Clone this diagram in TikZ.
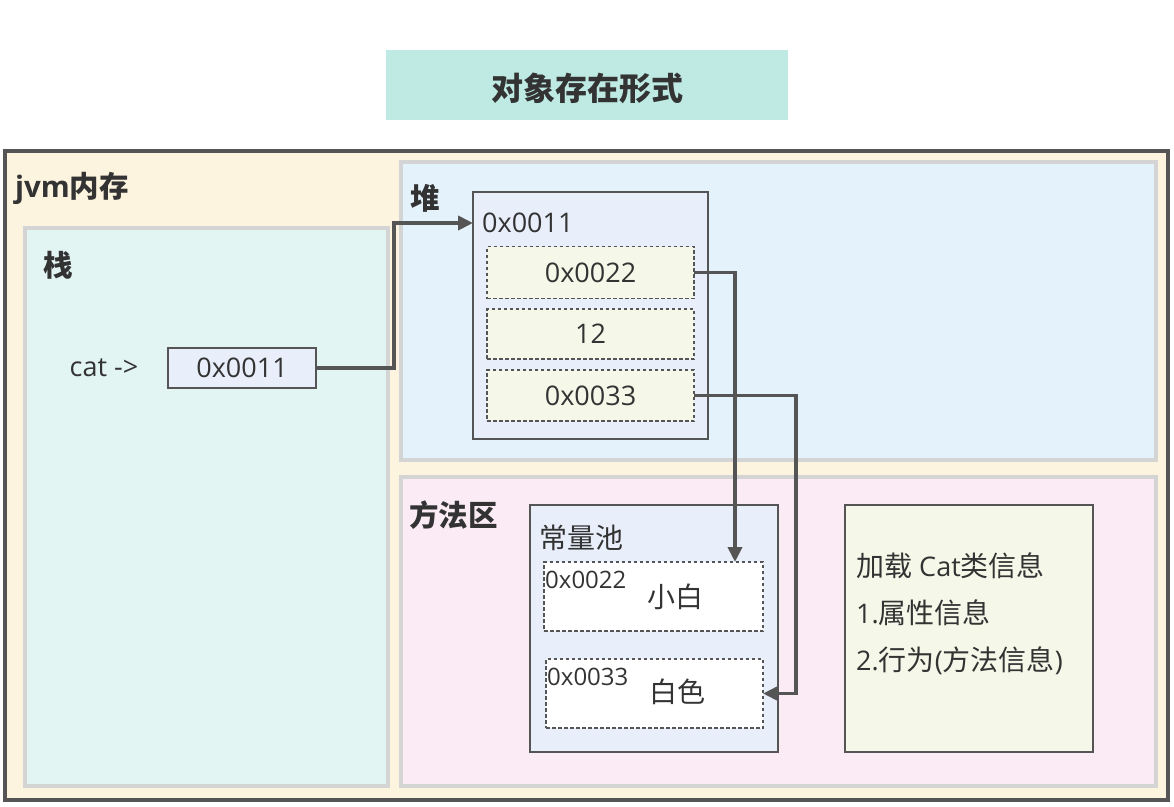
\documentclass[tikz,border=0pt]{standalone}
\usepackage{fontspec}
\setmainfont{Open Sans}
\newfontfamily\cjk{Noto Sans CJK SC}
\usetikzlibrary{arrows.meta}
\definecolor{titlefill}{HTML}{BEEAE3}
\definecolor{jvmfill}{HTML}{FDF4E0}
\definecolor{stackfill}{HTML}{E2F5F3}
\definecolor{heapfill}{HTML}{E4F3FB}
\definecolor{methodfill}{HTML}{FBEBF5}
\definecolor{objfill}{HTML}{E8EEFA}
\definecolor{fieldfill}{HTML}{F5F8E8}
\definecolor{lightborder}{HTML}{D4D4D4}
\definecolor{darkline}{HTML}{555555}
\definecolor{txt}{HTML}{333333}
\tikzset{
  region/.style={draw=lightborder, line width=3.5pt, inner sep=0pt, outer sep=0pt},
  objbox/.style={draw=darkline, line width=2pt, fill=objfill, inner sep=0pt, outer sep=0pt},
  fieldbox/.style={draw=darkline, line width=1.6pt, dash pattern=on 3.5pt off 2.5pt, fill=fieldfill, inner sep=0pt, outer sep=0pt, font=\fontsize{27}{30}\selectfont, text=txt},
  poolbox/.style={draw=darkline, line width=1.6pt, dash pattern=on 3.5pt off 2.5pt, fill=white, inner sep=0pt, outer sep=0pt},
  bigtitle/.style={font=\fontsize{29.5}{34}\selectfont\bfseries, text=txt, inner sep=0pt},
  plain/.style={font=\fontsize{27}{30}\selectfont, text=txt, inner sep=0pt},
  cjkplain/.style={font=\fontsize{28}{32}\selectfont\cjk, text=txt, inner sep=0pt},
  small/.style={font=\fontsize{24}{27}\selectfont, text=txt, inner sep=0pt},
  conn/.style={draw=darkline, line width=3.8pt, -{Triangle[length=15pt,width=14pt]}},
}
\begin{document}
\begin{tikzpicture}[x=1pt,y=-1pt]
\useasboundingbox (0,0) rectangle (1174,806);
\fill[white] (0,0) rectangle (1174,806);
% title
\node[fill=titlefill, minimum width=402pt, minimum height=70pt, inner sep=0pt] (title) at (587,85) {};
\node[bigtitle, font=\fontsize{32}{36}\selectfont\bfseries\cjk] (titletext) at (587,88) {对象存在形式};
% outer jvm
\node[draw=darkline, line width=3.5pt, fill=jvmfill, minimum width=1163pt, minimum height=649pt, inner sep=0pt] (jvm) at (586.5,475.5) {};
\node[bigtitle, anchor=west] (jvmlabel) at (15,188) {jvm{\cjk 内存}};
% stack
\node[region, fill=stackfill, minimum width=363pt, minimum height=558pt] (stack) at (206.5,507) {};
\node[bigtitle, anchor=west] (stacklabel) at (43,265) {\cjk 栈};
\node[plain] (catlabel) at (104,368) {cat ->};
\node[objbox, minimum width=148pt, minimum height=40pt, font=\fontsize{27}{30}\selectfont, text=txt] (s0011) at (242,368) {0x0011};
% heap
\node[region, fill=heapfill, minimum width=755pt, minimum height=298pt] (heap) at (778.5,311) {};
\node[bigtitle, anchor=west] (heaplabel) at (410,198) {\cjk 堆};
\node[objbox, minimum width=235pt, minimum height=247pt] (hobj) at (590.5,315.5) {};
\node[plain, anchor=west] (hl) at (482,223) {0x0011};
\node[fieldbox, minimum width=207pt, minimum height=52pt] (f22) at (590.5,272.5) {0x0022};
\node[fieldbox, minimum width=207pt, minimum height=50pt] (f12) at (590.5,334) {12};
\node[fieldbox, minimum width=207pt, minimum height=51pt] (f33) at (590.5,395.5) {0x0033};
% method area
\node[region, fill=methodfill, minimum width=755pt, minimum height=309pt] (method) at (778.5,631.5) {};
\node[bigtitle, anchor=west] (methodlabel) at (409,515) {\cjk 方法区};
\node[objbox, minimum width=248pt, minimum height=247pt] (pool) at (654,628.5) {};
\node[cjkplain, anchor=west] (poollabel) at (539,538) {常量池};
\node[poolbox, minimum width=219pt, minimum height=69pt] (c1) at (653.5,596.5) {};
\node[small, anchor=west] (c1a) at (545,580) {0x0022};
\node[cjkplain] (c1b) at (675,597) {小白};
\node[poolbox, minimum width=217pt, minimum height=69pt] (c2) at (654.5,693.5) {};
\node[small, anchor=west] (c2a) at (547,677) {0x0033};
\node[cjkplain] (c2b) at (677,692) {白色};
% class info
\node[objbox, fill=fieldfill, minimum width=248pt, minimum height=247pt] (cls) at (969,628.5) {};
\node[plain, anchor=west] (cls1) at (856,566) {{\fontsize{28}{32}\selectfont\cjk 加载} Cat{\fontsize{28}{32}\selectfont\cjk 类信息}};
\node[plain, anchor=west] (cls2) at (856,613) {1.{\fontsize{28}{32}\selectfont\cjk 属性信息}};
\node[plain, anchor=west] (cls3) at (856,661) {2.{\fontsize{28}{32}\selectfont\cjk 行为}({\fontsize{28}{32}\selectfont\cjk 方法信息})};
% connectors
\draw[conn] (s0011.east) -- ++(78,0) |- (hobj.west |- hl.west);
\draw[conn] (f22.east) -| ([xshift=-28pt]c1.north east);
\draw[conn] (f33.east) -- ++(102,0) |- (c2.east);
\end{tikzpicture}
\end{document}
